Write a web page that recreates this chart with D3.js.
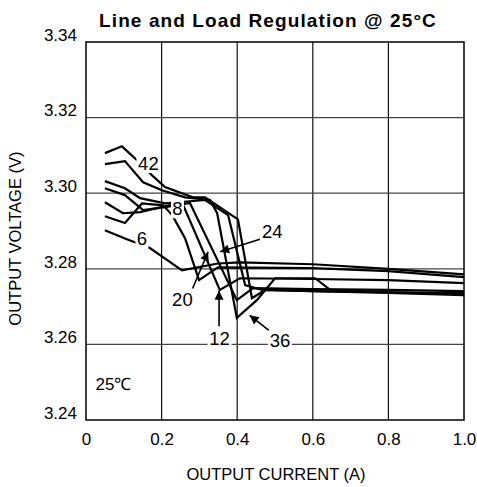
<!DOCTYPE html>
<html>
<head>
<meta charset="utf-8">
<script src="https://cdn.jsdelivr.net/npm/d3@7"></script>
<style>
    body { margin: 0; background: #fff; }
    text { font-family: "Liberation Sans", Arial, sans-serif; }
</style>
</head>
<body>
<div class="container"></div>
<script>
// current (A), output voltage (V) for each input voltage
var series6 = [[0.05, 3.2902], [0.103, 3.2880], [0.169, 3.2855], [0.254, 3.2796], [0.349, 3.2814], [0.407, 3.2817], [0.6, 3.2812], [0.8, 3.2800], [1.0, 3.2785]];
var series8 = [[0.05, 3.2939], [0.103, 3.2921], [0.148, 3.2973], [0.204, 3.2968], [0.228, 3.2942], [0.262, 3.2881], [0.299, 3.2770], [0.349, 3.2804], [0.6, 3.2802], [0.8, 3.2794], [1.0, 3.2778]];
var series12 = [[0.05, 3.2976], [0.098, 3.2947], [0.143, 3.2950], [0.254, 3.2976], [0.354, 3.2744], [0.407, 3.2775], [0.6, 3.2773], [0.8, 3.2770], [1.0, 3.2762]];
var series20 = [[0.05, 3.3013], [0.103, 3.2995], [0.151, 3.2955], [0.209, 3.2963], [0.275, 3.2974], [0.399, 3.2717], [0.442, 3.2749], [0.6, 3.2746], [0.8, 3.2744], [1.0, 3.2741]];
var series24 = [[0.05, 3.3032], [0.103, 3.3013], [0.143, 3.2987], [0.209, 3.2973], [0.315, 3.2982], [0.376, 3.2942], [0.421, 3.2757], [0.466, 3.2744], [0.6, 3.2741], [0.8, 3.2738], [1.0, 3.2736]];
var series36 = [[0.05, 3.3077], [0.103, 3.3085], [0.151, 3.3029], [0.201, 3.3008], [0.262, 3.2989], [0.328, 3.2982], [0.347, 3.2947], [0.399, 3.2670], [0.452, 3.2717], [0.5, 3.2775], [0.606, 3.2775], [0.646, 3.2744], [0.8, 3.2738], [1.0, 3.2733]];
var series42 = [[0.05, 3.3106], [0.095, 3.3124], [0.143, 3.3080], [0.177, 3.3045], [0.209, 3.3016], [0.283, 3.2989], [0.315, 3.2989], [0.402, 3.2931], [0.439, 3.2722], [0.474, 3.2744], [0.6, 3.2741], [0.8, 3.2736], [1.0, 3.2730]];

var xTicks = [0, 0.2, 0.4, 0.6, 0.8, 1.0];
var xTickLabels = ["0", "0.2", "0.4", "0.6", "0.8", "1.0"];
var yTicks = [3.24, 3.26, 3.28, 3.30, 3.32, 3.34];
var yTickLabels = ["3.24", "3.26", "3.28", "3.30", "3.32", "3.34"];

// label text, label position [I, V], arrow from [I, V] to [I, V] (null = no arrow)
var seriesLabels = [
    { text: "42", at: [0.165, 3.3080], arrow: null },
    { text: "8", at: [0.242, 3.2960], arrow: null },
    { text: "6", at: [0.148, 3.2880], arrow: null },
    { text: "20", at: [0.255, 3.2720], arrow: [[0.282, 3.2748], [0.323, 3.2845]] },
    { text: "12", at: [0.353, 3.2615], arrow: [[0.352, 3.2648], [0.352, 3.2742]] },
    { text: "24", at: [0.493, 3.2900], arrow: [[0.460, 3.2878], [0.355, 3.2845]] },
    { text: "36", at: [0.513, 3.2610], arrow: [[0.484, 3.2637], [0.433, 3.2677]] }
];

var dims = { width: 477, height: 487, left: 86, top: 42, plotW: 378, plotH: 378 };

var x = d3.scaleLinear().domain([0, 1]).range([dims.left, dims.left + dims.plotW]);
var y = d3.scaleLinear().domain([3.24, 3.34]).range([dims.top + dims.plotH, dims.top]);

var svg = d3.select(".container").append("svg")
    .attr("width", dims.width)
    .attr("height", dims.height);

// grid
svg.append("g").selectAll("line")
    .data(xTicks.slice(1, -1))
    .join("line")
    .attr("x1", (d) => x(d)).attr("x2", (d) => x(d))
    .attr("y1", y(3.24)).attr("y2", y(3.34))
    .attr("stroke", "#111").attr("stroke-width", 1.2);

svg.append("g").selectAll("line")
    .data(yTicks.slice(1, -1))
    .join("line")
    .attr("x1", x(0)).attr("x2", x(1))
    .attr("y1", (d) => y(d)).attr("y2", (d) => y(d))
    .attr("stroke", "#444").attr("stroke-width", 1.2);

var line = d3.line()
    .x((d) => x(d[0]))
    .y((d) => y(d[1]));

var allSeries = [series6, series8, series12, series20, series24, series36, series42];
svg.append("g").selectAll("path")
    .data(allSeries)
    .join("path")
    .attr("d", line)
    .attr("fill", "none")
    .attr("stroke", "#000")
    .attr("stroke-width", 2.2)
    .attr("stroke-linejoin", "miter");

// arrows
svg.append("defs").append("marker")
    .attr("id", "head")
    .attr("viewBox", "0 0 10 10")
    .attr("refX", 10).attr("refY", 5)
    .attr("markerWidth", 10).attr("markerHeight", 9)
    .attr("markerUnits", "userSpaceOnUse")
    .attr("orient", "auto")
    .append("path")
    .attr("d", "M0,0 L10,5 L0,10 Z")
    .attr("fill", "#000");

svg.append("g").selectAll("line")
    .data(seriesLabels.filter((d) => d.arrow))
    .join("line")
    .attr("x1", (d) => x(d.arrow[0][0])).attr("y1", (d) => y(d.arrow[0][1]))
    .attr("x2", (d) => x(d.arrow[1][0])).attr("y2", (d) => y(d.arrow[1][1]))
    .attr("stroke", "#000").attr("stroke-width", 1.6)
    .attr("marker-end", "url(#head)");

// series labels with white backing
var lab = svg.append("g").selectAll("g")
    .data(seriesLabels)
    .join("g")
    .attr("transform", (d) => `translate(${x(d.at[0])},${y(d.at[1])})`);
lab.append("rect")
    .attr("x", (d) => -d.text.length * 5.5 - 1)
    .attr("y", -10)
    .attr("width", (d) => d.text.length * 11 + 2)
    .attr("height", 20)
    .attr("fill", "#fff");
lab.append("text")
    .attr("text-anchor", "middle")
    .attr("dy", "0.36em")
    .attr("font-size", 18.5)
    .text((d) => d.text);

// frame
svg.append("rect")
    .attr("x", x(0)).attr("y", y(3.34))
    .attr("width", dims.plotW).attr("height", dims.plotH)
    .attr("fill", "none").attr("stroke", "#000").attr("stroke-width", 1.5);

// axes
var xAxis = d3.axisBottom(x).tickValues(xTicks).tickSize(0).tickPadding(13)
    .tickFormat((d, i) => xTickLabels[i]);
svg.append("g")
    .attr("transform", `translate(0,${y(3.24)})`)
    .call(xAxis)
    .call((g) => g.select(".domain").remove())
    .selectAll("text").attr("font-size", 17).attr("fill", "#000")
    .attr("font-family", "Liberation Sans, Arial, sans-serif");

var yAxis = d3.axisLeft(y).tickValues(yTicks).tickSize(0).tickPadding(9)
    .tickFormat((d, i) => yTickLabels[i]);
svg.append("g")
    .attr("transform", `translate(${x(0)},0)`)
    .call(yAxis)
    .call((g) => g.select(".domain").remove())
    .selectAll("text").attr("font-size", 17).attr("fill", "#000")
    .attr("dy", "-0.1em")
    .attr("font-family", "Liberation Sans, Arial, sans-serif");

// titles
svg.append("text")
    .attr("x", 268).attr("y", 27)
    .attr("text-anchor", "middle")
    .attr("font-size", 19).attr("font-weight", "bold")
    .attr("letter-spacing", 1.1)
    .text("Line and Load Regulation @ 25°C");

svg.append("text")
    .attr("x", 276).attr("y", 480)
    .attr("text-anchor", "middle")
    .attr("font-size", 16.5)
    .text("OUTPUT CURRENT (A)");

svg.append("text")
    .attr("transform", `translate(21,${y(3.288)}) rotate(-90)`)
    .attr("text-anchor", "middle")
    .attr("font-size", 16.5)
    .text("OUTPUT VOLTAGE (V)");

svg.append("text")
    .attr("x", x(0.025)).attr("y", y(3.248))
    .attr("font-size", 17)
    .text("25℃");
</script>
</body>
</html>
